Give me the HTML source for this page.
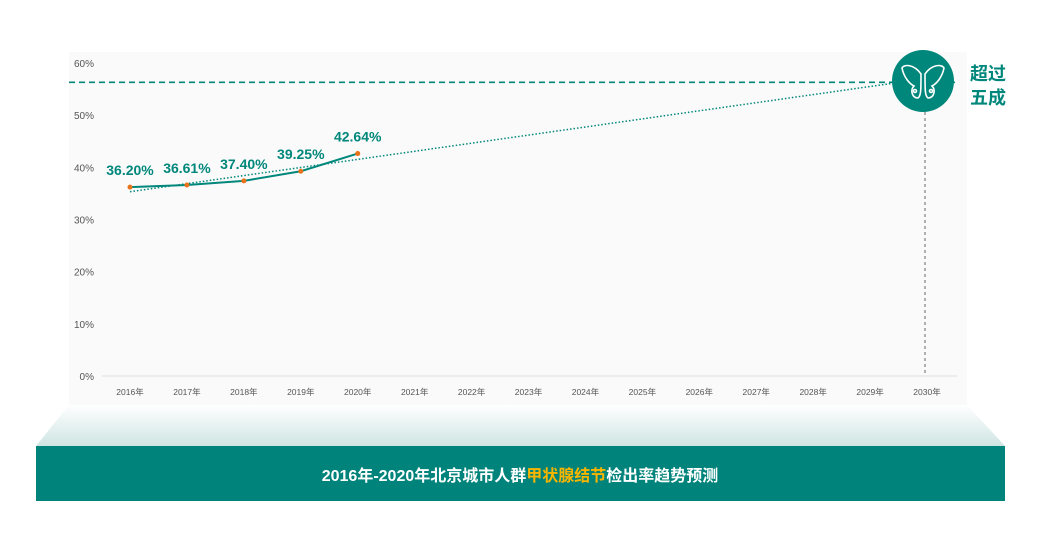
<!DOCTYPE html>
<html><head><meta charset="utf-8"><style>
body{margin:0;background:#fff;width:1062px;height:552px;overflow:hidden;font-family:"Liberation Sans","Noto Sans CJK SC",sans-serif}
svg{display:block}
</style></head><body>
<svg width="1062" height="552">
<defs><linearGradient id="g" x1="0" y1="0" x2="0" y2="1"><stop offset="0" stop-color="#ffffff"/><stop offset="1" stop-color="#cfe5e3"/></linearGradient></defs>
<rect x="69" y="52" width="898" height="353" fill="#fafafa"/>
<polygon points="69,405 967,405 1005,446 36,446" fill="url(#g)"/>
<rect x="36" y="446" width="969" height="55" fill="#00837a"/>
<text x="520" y="481" text-anchor="middle" font-size="16" fill="#fff" font-weight="bold">2016年-2020年北京城市人群<tspan fill="#f7b500">甲状腺结节</tspan>检出率趋势预测</text>
<g id="axes"></g>
<g id="marks"></g>
<line x1="925" y1="112" x2="925" y2="376" stroke="#666" stroke-dasharray="3,3"/>
<circle cx="923" cy="81" r="31" fill="#00877b"/>
<g fill="none" stroke="#fff" stroke-width="1.6">
<path d="M921,74 C914,64 904,64 902,68 C904,78 910,84 914,86 C910,90 912,98 918,98 C921,96 921,90 921,74Z"/>
<path d="M925,74 C932,64 942,64 944,68 C942,78 936,84 932,86 C936,90 934,98 928,98 C925,96 925,90 925,74Z"/>
<circle cx="915" cy="91" r="1.5"/><circle cx="931" cy="91" r="1.5"/>
</g>
<text x="970" y="80" font-size="18" font-weight="bold" fill="#00877b">超过</text>
<text x="970" y="104" font-size="18" font-weight="bold" fill="#00877b">五成</text>
</svg>
<script>
const years=["2016年","2017年","2018年","2019年","2020年","2021年","2022年","2023年","2024年","2025年","2026年","2027年","2028年","2029年","2030年"];
const values=[36.20,36.61,37.40,39.25,42.64];
const labels=["36.20%","36.61%","37.40%","39.25%","42.64%"];
const yTicks=[0,10,20,30,40,50,60];
const target=56.3;
const NS="http://www.w3.org/2000/svg";
const X=i=>130+i*56.93, Y=v=>376-v*5.217;
function mk(p,t,a){const e=document.createElementNS(NS,t);for(const k in a)e.setAttribute(k,a[k]);p.appendChild(e);return e;}
const ax=document.getElementById('axes'),mk2=document.getElementById('marks');
let e=mk(ax,'line',{x1:102,x2:957,y1:Y(0),y2:Y(0),stroke:'#ddd'});


yTicks.forEach(t=>{const el=mk(ax,'text',{x:94,y:Y(t)+4,'text-anchor':'end','font-size':10,fill:'#555'});el.textContent=t+'%';

});
years.forEach((y,i)=>{const el=mk(ax,'text',{x:X(i),y:395,'text-anchor':'middle','font-size':8.5,fill:'#555'});el.textContent=y;

});
e=mk(mk2,'line',{x1:69,x2:958,y1:Y(target),y2:Y(target),stroke:'#00877b','stroke-width':1.6,'stroke-dasharray':'6,4'});


// regression trend
const n=values.length;let sx=0,sy=0,sxy=0,sxx=0;values.forEach((v,i)=>{sx+=i;sy+=v;sxy+=i*v;sxx+=i*i;});
const b=(n*sxy-sx*sy)/(n*sxx-sx*sx),a=(sy-b*sx)/n;
const xe=(target-a)/b;
e=mk(mk2,'line',{x1:X(0),y1:Y(a),x2:X(xe),y2:Y(target),stroke:'#00877b','stroke-width':1.5,'stroke-dasharray':'1.5,2'});


e=mk(mk2,'polyline',{points:values.map((v,i)=>X(i)+','+Y(v)).join(' '),fill:'none',stroke:'#00877b','stroke-width':2});


values.forEach((v,i)=>{const c=mk(mk2,'circle',{cx:X(i),cy:Y(v),r:2.5,fill:'#e8731a'});


const t=mk(mk2,'text',{x:X(i),y:Y(v)-12,'text-anchor':'middle','font-size':14,'font-weight':'bold',fill:'#00877b'});t.textContent=labels[i];

});
</script>
</body></html>
